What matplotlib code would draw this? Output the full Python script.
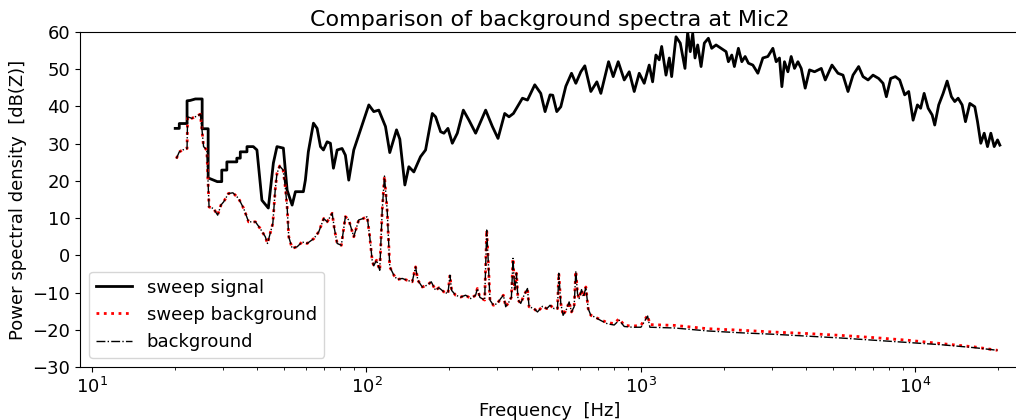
import numpy as np
import matplotlib
matplotlib.use('Agg')
import matplotlib.pyplot as plt

# sweep signal at Mic2
sweep_freq = [20.1, 20.8, 20.8, 22.2, 22.2, 22.8, 23.8, 25.2, 25.2, 26.5,
              26.5, 28.6, 29.7, 29.7, 31.0, 31.0, 33.7, 33.7, 34.7, 34.7,
              36.7, 36.7, 38.7, 39.9, 41.6, 43.9, 45.8, 47.2, 49.8, 51.4,
              53.6, 55.1, 58.9, 59.9, 61.4, 64.1, 66.1, 68.0, 69.7, 71.9,
              73.9, 75.8, 78.2, 81.5, 83.8, 86.2, 89.9, 95.1, 102, 106.3,
              110.9, 117.3, 121.6, 128.7, 132.3, 138.0, 142.7, 148.8, 157.4, 164.2,
              173.7, 178.6, 186.3, 191.5, 198.1, 205.5, 214.3, 225.4, 236.3, 249.9,
              271.8, 287.6, 301.5, 318.9, 330.6, 343.1, 370.1, 386.0, 410.4, 431.5,
              447.4, 466.6, 477.3, 493.6, 510.5, 532.5, 558.6, 579.2, 604.0, 624.6,
              656.9, 690.9, 714.5, 762.3, 792.4, 826.5, 869.3, 906.6, 945.3, 985.8,
              1028, 1072, 1103, 1134, 1166, 1190, 1234, 1269, 1294, 1342,
              1391, 1447, 1480, 1513, 1544, 1574, 1610, 1656, 1702, 1761,
              1811, 1878, 1959, 2043, 2083, 2143, 2190, 2265, 2331, 2397,
              2464, 2557, 2667, 2781, 2900, 3025, 3110, 3197, 3262, 3334,
              3431, 3527, 3627, 3732, 3837, 3967, 4114, 4291, 4540, 4695,
              4966, 5223, 5447, 5681, 5925, 6211, 6444, 6722, 7008, 7347,
              7623, 7838, 8127, 8453, 8764, 9140, 9453, 9808, 10170, 10450,
              10760, 11130, 11510, 11760, 12160, 12620, 13050, 13530, 13910, 14310,
              14800, 15220, 15790, 16460, 16840, 17310, 17810, 18310, 18830, 19370,
              19920, 20310]
sweep_db = [34.1, 34.1, 35.4, 35.4, 41.5, 41.6, 42.0, 42.0, 34.0, 34.0,
            20.8, 19.8, 19.8, 22.9, 22.9, 25.1, 25.1, 26.1, 26.1, 27.8,
            27.8, 29.2, 29.2, 28.3, 14.8, 12.7, 24.8, 29.2, 28.8, 17.5,
            13.5, 17.1, 17.1, 20.2, 27.8, 35.5, 34.1, 29.2, 28.3, 30.5,
            30.1, 23.4, 28.3, 28.7, 26.9, 20.2, 28.3, 33.7, 40.4, 38.6,
            39.0, 34.6, 27.6, 33.7, 31.2, 18.9, 23.8, 22.4, 26.5, 28.3,
            38.1, 37.2, 33.2, 32.8, 34.1, 30.1, 32.8, 39.0, 36.3, 32.8,
            39.0, 34.6, 31.4, 38.1, 37.2, 38.1, 42.2, 41.7, 45.8, 43.5,
            38.6, 43.1, 43.0, 38.6, 39.9, 45.4, 48.9, 46.2, 49.3, 50.9,
            44.0, 46.6, 43.5, 52.0, 48.0, 52.0, 47.1, 49.3, 44.0, 48.9,
            46.2, 51.1, 46.6, 53.8, 52.5, 56.1, 48.4, 53.0, 48.0, 58.7,
            57.0, 50.2, 59.9, 54.7, 59.6, 53.0, 56.5, 50.7, 57.0, 58.3,
            55.6, 56.5, 55.6, 54.7, 52.0, 53.8, 50.7, 55.6, 52.0, 53.4,
            51.6, 51.1, 48.9, 53.0, 53.4, 55.6, 52.0, 53.0, 45.3, 52.0,
            49.3, 53.4, 50.2, 52.0, 50.2, 44.9, 49.8, 49.3, 50.2, 47.1,
            51.1, 48.9, 48.4, 44.0, 48.4, 50.7, 48.0, 47.1, 48.4, 47.5,
            46.2, 42.6, 47.5, 48.0, 47.1, 43.1, 44.0, 36.3, 40.4, 39.5,
            43.5, 39.5, 37.7, 35.0, 40.4, 43.5, 46.8, 42.6, 41.3, 42.2,
            40.4, 35.9, 40.8, 39.9, 35.9, 30.1, 32.8, 29.2, 32.8, 29.2,
            31.0, 29.6]

# background, both curves lie on top of each other up to ~700 Hz
low_freq = [20.3, 20.8, 21.4, 22.2, 22.3, 23.1, 24.1, 24.8, 25.1, 25.5,
            26.2, 26.7, 27.7, 28.7, 29.5, 30.2, 31.4, 32.6, 34.2, 35.7,
            37.2, 39.4, 41.0, 42.8, 43.6, 44.6, 45.6, 46.5, 47.2, 48.3,
            49.7, 50.6, 51.4, 52.1, 53.6, 55.9, 58.3, 60.8, 64.3, 67.0,
            69.9, 71.9, 75.0, 76.4, 78.2, 81.0, 83.8, 86.2, 89.9, 93.7,
            97.3, 100.6, 102.8, 104.9, 106.3, 108.8, 111.8, 114.1, 116.3, 119.0,
            121.6, 125.8, 129.4, 135.0, 140.8, 146.8, 151.0, 153.9, 159.7, 166.5,
            172.2, 178.6, 183.6, 191.5, 198.1, 201.4, 204.3, 211.3, 220.3, 229.8,
            239.7, 249.9, 253.5, 259.1, 269.6, 274.2, 278.1, 281.8, 290.0, 299.9,
            308.4, 315.4, 321.6, 330.6, 337.4, 341.9, 346.9, 351.9, 356.7, 364.8,
            375.1, 386.0, 391.2, 407.8, 419.8, 437.8, 453.9, 466.6, 482.6, 496.6,
            502.0, 510.5, 520.5, 537.0, 547.5, 558.6, 571.0, 579.2, 587.5, 595.4,
            607.6, 617.9, 630.0, 642.3, 656.9, 675.5]
low_db = [26.0, 27.8, 28.3, 28.7, 37.2, 36.8, 37.4, 37.9, 34.6, 29.2,
          28.3, 13.0, 12.6, 10.8, 13.5, 14.4, 16.6, 16.8, 15.3, 12.6,
          9.0, 9.0, 7.2, 5.0, 3.2, 5.9, 8.6, 17.5, 22.0, 24.0,
          22.9, 18.4, 13.0, 5.0, 1.9, 2.3, 3.6, 3.2, 4.5, 6.3,
          9.9, 9.0, 11.3, 7.2, 3.2, 2.7, 10.4, 9.5, 5.0, 9.5,
          9.9, 10.4, 5.0, -1.3, -2.8, -1.3, -4.0, 12.0, 21.3, 12.0,
          -3.1, -5.3, -6.5, -6.2, -6.7, -7.1, -3.1, -6.7, -8.5, -8.0,
          -7.1, -9.4, -8.7, -9.8, -10.3, -5.3, -9.4, -10.7, -11.2, -10.7,
          -11.6, -10.7, -8.9, -11.3, -12.0, 6.8, -2.2, -12.0, -13.4, -12.9,
          -11.6, -10.7, -13.8, -12.5, -11.2, -0.8, -9.4, -4.8, -12.0, -12.9,
          -10.7, -8.9, -13.8, -14.3, -15.2, -13.7, -14.3, -13.4, -14.3, -14.3,
          -4.8, -12.9, -16.1, -14.3, -12.5, -15.2, -13.8, -4.2, -10.3, -11.6,
          -9.2, -11.2, -8.5, -14.3, -16.1, -16.5]

tail_freq = [714.5, 755.8, 799.1, 833.3, 869.3, 932.6, 1000, 1058, 1078, 1183,
             1323, 1752, 2317, 3066, 4059, 5370, 7105, 9406, 12440, 16460, 19920]
sweep_bg_tail = [-17.3, -18.1, -18.3, -17.0, -18.8, -19.0, -18.8, -16.1, -18.6, -18.7,
                 -18.8, -19.7, -20.1, -20.6, -21.0, -21.5, -22.1, -22.8, -23.7, -24.6, -25.5]
bg_tail = [-17.5, -18.4, -18.7, -17.4, -19.1, -19.3, -19.3, -16.3, -19.3, -19.4,
           -19.5, -20.3, -20.8, -21.2, -21.7, -22.2, -22.8, -23.4, -24.0, -24.8, -25.5]

bg_freq = np.array(low_freq + tail_freq)
sweep_bg_db = np.array(low_db + sweep_bg_tail)
bg_db = np.array(low_db + bg_tail)

plt.rcParams['font.size'] = 13

fig = plt.figure(figsize=(10.16, 4.2), dpi=100)
ax = fig.add_axes([0.0787, 0.126, 0.925, 0.798])

ax.semilogx(sweep_freq, sweep_db, 'k-', lw=2, label='sweep signal')
ax.semilogx(bg_freq, sweep_bg_db, 'r:', lw=2, label='sweep background')
ax.semilogx(bg_freq, bg_db, 'k-.', lw=1, label='background')

ax.set_xlim(9.04, 24000)
ax.set_ylim(-30, 60)
ax.set_yticks(np.arange(-30, 61, 10))
ax.set_xlabel('Frequency  [Hz]')
ax.set_ylabel('Power spectral density  [dB(Z)]')
ax.set_title('Comparison of background spectra at Mic2', fontsize=16, pad=4)
ax.legend(loc='lower left')

plt.savefig('out.png', dpi=100)
